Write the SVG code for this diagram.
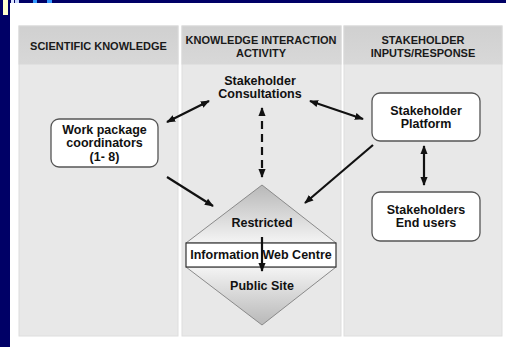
<svg xmlns="http://www.w3.org/2000/svg" width="506" height="347" viewBox="0 0 506 347">
<style>
.hdr{font-family:"Liberation Sans",Arial,sans-serif;font-weight:bold;font-size:11px;fill:#1a1a1a;text-anchor:middle}
.lbl{font-family:"Liberation Sans",Arial,sans-serif;font-weight:bold;font-size:12.5px;fill:#111;text-anchor:middle}
.box{fill:#fff;stroke:#555;stroke-width:1.3}
.body{fill:#e8e8e8;stroke:#dedede;stroke-width:1}
.head{fill:url(#hg);stroke:#d8d8d8;stroke-width:1}
.arr{stroke:#111;stroke-width:2.2;fill:none;marker-end:url(#ah)}
.arr2{stroke:#111;stroke-width:2.2;fill:none;marker-end:url(#ah);marker-start:url(#ah)}
</style>
<defs>
<marker id="ah" viewBox="0 0 10 8" refX="9" refY="4" markerWidth="9" markerHeight="8" markerUnits="userSpaceOnUse" orient="auto-start-reverse">
<path d="M0,0 L10,4 L0,8 z" fill="#111"/>
</marker>
<linearGradient id="hg" x1="0" y1="0" x2="0" y2="1">
<stop offset="0" stop-color="#d0d0d0"/>
<stop offset="1" stop-color="#d8d8d8"/>
</linearGradient>
<linearGradient id="gt" x1="0" y1="0" x2="0" y2="1">
<stop offset="0" stop-color="#b8b8b8"/>
<stop offset="1" stop-color="#f4f4f4"/>
</linearGradient>
<linearGradient id="gb" x1="0" y1="0" x2="0" y2="1">
<stop offset="0" stop-color="#f4f4f4"/>
<stop offset="1" stop-color="#b8b8b8"/>
</linearGradient>
</defs>
<rect x="0" y="0" width="506" height="347" fill="#fff"/>
<rect x="0" y="0" width="506" height="3" fill="#000066"/>
<rect x="0" y="0" width="10" height="347" fill="#000066"/>
<rect x="3" y="0" width="5" height="15" fill="#ffffcc"/>
<rect x="11" y="0" width="3" height="3" fill="#e0e8ff"/>
<rect x="15" y="0" width="4" height="3" fill="#c8d8ff"/>
<rect x="33" y="0" width="4" height="3" fill="#3399ff"/>
<rect x="47" y="0" width="5" height="3" fill="#3399ff"/>
<text x="209" y="-5" font-family="Liberation Sans,Arial,sans-serif" font-weight="bold" font-size="24" fill="#fff">g</text>

<g id="col-scientific">
<rect class="body" x="19" y="26" width="159" height="310"/>
<rect class="head" x="19" y="26" width="159" height="38"/>
<text class="hdr" x="98.5" y="50">SCIENTIFIC KNOWLEDGE</text>
</g>
<g id="col-interaction">
<rect class="body" x="182" y="26" width="159" height="310"/>
<rect class="head" x="182" y="26" width="159" height="38"/>
<text class="hdr" x="261" y="44">KNOWLEDGE INTERACTION</text>
<text class="hdr" x="261" y="57">ACTIVITY</text>
</g>
<g id="col-stakeholder">
<rect class="body" x="344" y="26" width="158" height="310"/>
<rect class="head" x="344" y="26" width="158" height="38"/>
<text class="hdr" x="423" y="44">STAKEHOLDER</text>
<text class="hdr" x="423" y="57">INPUTS/RESPONSE</text>
</g>

<g id="consultations">
<text class="lbl" x="260" y="85">Stakeholder</text>
<text class="lbl" x="260" y="98">Consultations</text>
</g>
<g id="workpackage">
<rect class="box" x="51" y="119" width="107" height="48" rx="8"/>
<text class="lbl" x="104.5" y="134">Work package</text>
<text class="lbl" x="104.5" y="147">coordinators</text>
<text class="lbl" x="104.5" y="161">(1- 8)</text>
</g>
<g id="platform">
<rect class="box" x="372" y="93" width="108" height="48" rx="8"/>
<text class="lbl" x="426" y="115">Stakeholder</text>
<text class="lbl" x="426" y="128">Platform</text>
</g>
<g id="endusers">
<rect class="box" x="372" y="192" width="108" height="49" rx="8"/>
<text class="lbl" x="426" y="214">Stakeholders</text>
<text class="lbl" x="426" y="227">End users</text>
</g>
<g id="webcentre">
<path d="M262,185 L336,243 L186,243 z" fill="url(#gt)" stroke="#8a8a8a" stroke-width="1"/>
<path d="M186,267 L336,267 L262,325 z" fill="url(#gb)" stroke="#8a8a8a" stroke-width="1"/>
<text class="lbl" x="262" y="227">Restricted</text>
<text class="lbl" x="262" y="290">Public Site</text>
<rect x="186" y="243" width="150" height="24" fill="#fff" stroke="#333" stroke-width="1.2"/>
<text class="lbl" x="261" y="259">Information Web Centre</text>
</g>

<g id="connectors">
<line class="arr2" x1="167" y1="122" x2="209" y2="101"/>
<line class="arr2" x1="310" y1="101" x2="363" y2="119"/>
<line class="arr2" x1="262" y1="108" x2="262" y2="177" stroke-dasharray="8,5"/>
<line class="arr" x1="167" y1="177" x2="213" y2="206"/>
<line class="arr" x1="373" y1="145" x2="305" y2="203"/>
<line class="arr2" x1="424" y1="146" x2="424" y2="185"/>
<line class="arr" x1="262" y1="237" x2="262" y2="271"/>
</g>
</svg>
